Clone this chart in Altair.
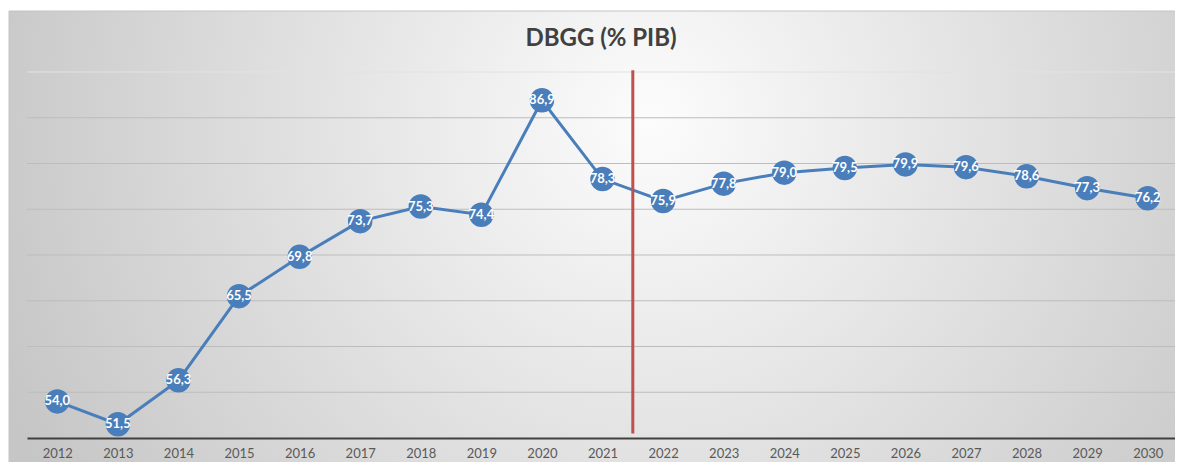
import altair as alt
import pandas as pd

years = list(range(2012, 2031))
values = [54.0, 51.5, 56.3, 65.5, 69.8, 73.7, 75.3, 74.4, 86.9, 78.3,
          75.9, 77.8, 79.0, 79.5, 79.9, 79.6, 78.6, 77.3, 76.2]
grid_levels = [55, 60, 65, 70, 75, 80, 85, 90]
divider_year = [2021.5]
divider_top = [90.2]
divider_bottom = [50.5]
title_text = "DBGG (% PIB)"

df = pd.DataFrame({"year": years, "value": values})
grid_df = pd.DataFrame({"level": grid_levels})
div_df = pd.DataFrame({"x": divider_year, "y1": divider_top, "y2": divider_bottom})

W, H = 1148, 366
BLUE = "#4a7ebb"

xscale = alt.Scale(domain=[2011.5, 2030.45], nice=False, zero=False)
yscale = alt.Scale(domain=[50, 90], nice=False, zero=False)
xaxis = alt.Axis(values=years, format="d", title=None, grid=False, ticks=False,
                 domainColor="#404040", domainWidth=2, labelColor="#595959",
                 labelFontSize=13, labelFont="Lato", labelPadding=9, zindex=1)

bg = alt.Chart(pd.DataFrame({"a": [0]})).mark_rect(
    fill=alt.Gradient(
        gradient="radial",
        stops=[alt.GradientStop(color="#fcfcfc", offset=0),
               alt.GradientStop(color="#c6c6c6", offset=1)],
        x1=0.55, y1=0.4, r1=0, x2=0.55, y2=0.4, r2=0.6),
    stroke="#c4c4c4", strokeWidth=1
).encode(x=alt.value(-18), x2=alt.value(W + 1), y=alt.value(-61), y2=alt.value(H + 25))

grid = alt.Chart(grid_df).mark_rule(strokeWidth=1).encode(
    y=alt.Y("level:Q", scale=yscale, axis=None),
    color=alt.condition("datum.level == 90", alt.value("#e2e2e2"), alt.value("#bdbdbd")),
)

base = alt.Chart(df).encode(
    x=alt.X("year:Q", scale=xscale, axis=xaxis),
    y=alt.Y("value:Q", scale=yscale, axis=None),
)
line = base.mark_line(color=BLUE, strokeWidth=3)
rule = alt.Chart(div_df).mark_rule(color="#c0504d", strokeWidth=3).encode(
    x=alt.X("x:Q", scale=xscale, axis=xaxis),
    y=alt.Y("y1:Q", scale=yscale, axis=None),
    y2="y2:Q",
)
pts = base.mark_circle(size=600, color=BLUE, opacity=1)
labels = base.transform_calculate(
    lbl="replace(format(datum.value, '.1f'), '.', ',')"
).mark_text(color="white", fontWeight="bold", fontSize=13, font="Lato").encode(text="lbl:N")

chart = alt.layer(bg, grid, line, rule, pts, labels).properties(
    width=W, height=H,
    title=alt.TitleParams(title_text, font="Lato", fontSize=24, fontWeight="bold",
                          color="#404040", offset=-40, anchor="middle"),
    autosize=alt.AutoSizeParams(type="none"),
    padding={"left": 19, "top": 64, "right": 0, "bottom": 24},
    background="white",
).configure_view(stroke=None)

chart.save("out.html", embed_options={"renderer": "svg", "actions": False})
